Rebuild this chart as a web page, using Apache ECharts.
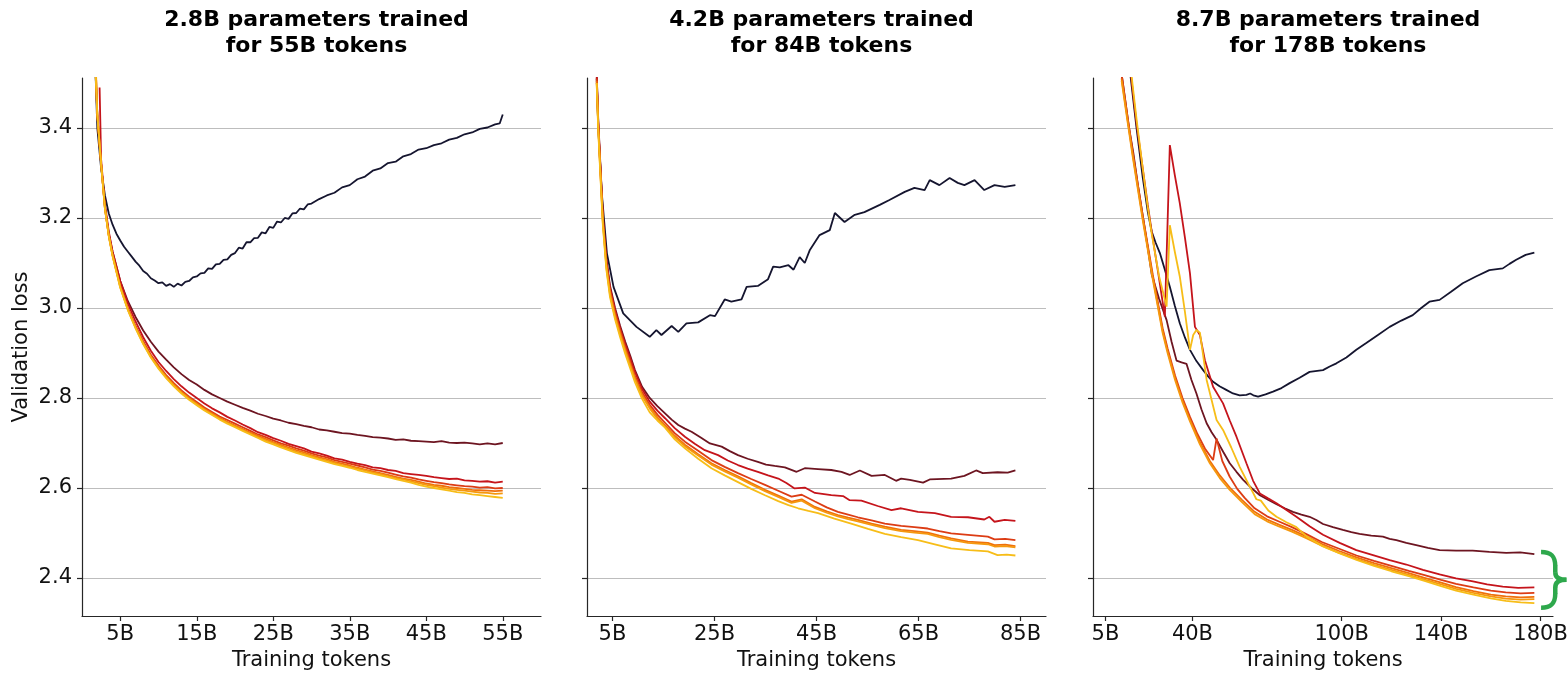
<!DOCTYPE html>
<html>
<head>
<meta charset="utf-8">
<script src="https://cdn.jsdelivr.net/npm/echarts@6/dist/echarts.min.js"></script>
<style>
  html, body { margin: 0; padding: 0; background: #fff; }
  #chart { width: 1568px; height: 674px; }
</style>
</head>
<body>
<div id="chart"></div>
<script>
// ---- panel titles and tick labels ----
const panelTitles = [
  '2.8B parameters trained\nfor 55B tokens',
  '4.2B parameters trained\nfor 84B tokens',
  '8.7B parameters trained\nfor 178B tokens'
];
const yTicks = [2.4, 2.6, 2.8, 3.0, 3.2, 3.4];
const xTicks1 = [5, 15, 25, 35, 45, 55];
const xTicks2 = [5, 25, 45, 65, 85];
const xTicks3 = [5, 40, 100, 140, 180];

// run colours, from the most repeated data (dark) to fresh data (yellow)
const runColors = ['#15152f', '#6d1521', '#c5141b', '#dc3c14', '#ef700c', '#f5980e', '#f7bd18'];

// ---- panel 1: 2.8B / 55B  ([tokens in B, validation loss]) ----
const p1Navy = [[1.7,3.56],[2,3.40],[2.5,3.31],[3,3.25],[3.5,3.21],[4,3.185],[4.5,3.165],[5,3.15],[5.5,3.136],[6,3.125],[6.5,3.114],[7,3.103],[7.5,3.094],[8,3.082],[8.5,3.076],[9,3.066],[9.5,3.061],[10,3.055],[10.5,3.057],[11,3.049],[11.5,3.053],[12,3.047],[12.5,3.054],[13,3.05],[13.5,3.058],[14,3.06],[14.5,3.068],[15,3.07],[15.5,3.077],[16,3.078],[16.5,3.088],[17,3.087],[17.5,3.097],[18,3.098],[18.5,3.107],[19,3.108],[19.5,3.118],[20,3.122],[20.5,3.134],[21,3.132],[21.5,3.146],[22,3.146],[22.5,3.155],[23,3.156],[23.5,3.168],[24,3.166],[24.5,3.18],[25,3.178],[25.5,3.192],[26,3.19],[26.5,3.2],[27,3.198],[27.5,3.21],[28,3.211],[28.5,3.221],[29,3.219],[29.5,3.23],[30,3.232],[31,3.242],[32,3.25],[33,3.256],[34,3.268],[35,3.273],[36,3.286],[37,3.292],[38,3.305],[39,3.31],[40,3.322],[41,3.325],[42,3.337],[43,3.342],[44,3.352],[45,3.355],[46,3.362],[47,3.366],[48,3.374],[49,3.378],[50,3.386],[51,3.39],[52,3.398],[53,3.401],[54,3.408],[54.6,3.41],[55,3.43]];
const p1Maroon = [[1.7,3.55],[2,3.43],[2.5,3.32],[3,3.225],[3.5,3.165],[4,3.125],[5,3.06],[6,3.015],[7,2.98],[8,2.95],[9,2.925],[10,2.903],[11,2.885],[12,2.868],[13,2.853],[14,2.84],[15,2.83],[16,2.818],[17,2.808],[18,2.8],[19,2.792],[20,2.785],[21,2.778],[22,2.772],[23,2.765],[24,2.76],[25,2.754],[26,2.75],[27,2.745],[28,2.742],[29,2.738],[30,2.735],[31,2.73],[32,2.728],[33,2.725],[34,2.722],[35,2.721],[36,2.718],[37,2.716],[38,2.713],[39,2.712],[40,2.71],[41,2.707],[42,2.708],[43,2.705],[44,2.704],[45,2.703],[46,2.702],[47,2.704],[48,2.701],[49,2.7],[50,2.701],[51,2.699],[52,2.697],[53,2.699],[54,2.697],[55,2.7]];
const p1Red = [[2.3,3.49],[2.5,3.33],[3,3.23],[3.5,3.17],[4,3.125],[5,3.06],[6,3.01],[7,2.97],[8,2.935],[9,2.905],[10,2.88],[11,2.86],[12,2.842],[13,2.826],[14,2.812],[15,2.8],[16,2.788],[17,2.777],[18,2.768],[19,2.758],[20,2.75],[21,2.741],[22,2.733],[23,2.724],[24,2.718],[25,2.711],[26,2.705],[27,2.698],[28,2.693],[29,2.688],[30,2.681],[31,2.677],[32,2.672],[33,2.666],[34,2.663],[35,2.658],[36,2.654],[37,2.651],[38,2.646],[39,2.644],[40,2.64],[41,2.638],[42,2.633],[43,2.631],[44,2.629],[45,2.627],[46,2.624],[47,2.622],[48,2.62],[49,2.621],[50,2.617],[51,2.616],[52,2.614],[53,2.615],[54,2.612],[55,2.614]];
const p1RedOrange = [[1.8,3.53],[2,3.43],[2.5,3.32],[3,3.222],[3.5,3.162],[4,3.118],[5,3.05],[6,3.0],[7,2.96],[8,2.926],[9,2.896],[10,2.872],[11,2.851],[12,2.833],[13,2.817],[14,2.803],[15,2.791],[16,2.779],[17,2.769],[18,2.759],[19,2.751],[20,2.743],[21,2.735],[22,2.727],[23,2.719],[24,2.713],[25,2.706],[26,2.699],[27,2.694],[28,2.688],[29,2.683],[30,2.677],[31,2.672],[32,2.668],[33,2.662],[34,2.658],[35,2.654],[36,2.65],[37,2.646],[38,2.641],[39,2.638],[40,2.634],[41,2.63],[42,2.626],[43,2.623],[44,2.619],[45,2.616],[46,2.613],[47,2.611],[48,2.608],[49,2.606],[50,2.604],[51,2.603],[52,2.601],[53,2.602],[54,2.599],[55,2.6]];
const p1Orange = [[1.8,3.53],[2,3.43],[2.5,3.32],[3,3.221],[3.5,3.161],[4,3.117],[5,3.048],[6,2.998],[7,2.958],[8,2.923],[9,2.893],[10,2.869],[11,2.848],[12,2.83],[13,2.814],[14,2.8],[15,2.788],[16,2.776],[17,2.766],[18,2.756],[19,2.747],[20,2.739],[21,2.731],[22,2.723],[23,2.716],[24,2.709],[25,2.702],[26,2.696],[27,2.69],[28,2.684],[29,2.679],[30,2.673],[31,2.668],[32,2.664],[33,2.658],[34,2.654],[35,2.65],[36,2.645],[37,2.641],[38,2.637],[39,2.633],[40,2.629],[41,2.625],[42,2.621],[43,2.618],[44,2.614],[45,2.61],[46,2.607],[47,2.605],[48,2.602],[49,2.6],[50,2.598],[51,2.596],[52,2.595],[53,2.594],[54,2.593],[55,2.594]];
const p1LightOrange = [[1.8,3.54],[2,3.43],[2.5,3.32],[3,3.22],[3.5,3.16],[4,3.116],[5,3.046],[6,2.996],[7,2.956],[8,2.921],[9,2.891],[10,2.867],[11,2.846],[12,2.828],[13,2.812],[14,2.798],[15,2.786],[16,2.774],[17,2.764],[18,2.754],[19,2.745],[20,2.737],[21,2.729],[22,2.721],[23,2.713],[24,2.706],[25,2.7],[26,2.693],[27,2.687],[28,2.681],[29,2.676],[30,2.671],[31,2.665],[32,2.661],[33,2.656],[34,2.651],[35,2.647],[36,2.643],[37,2.639],[38,2.634],[39,2.631],[40,2.626],[41,2.622],[42,2.619],[43,2.615],[44,2.611],[45,2.607],[46,2.604],[47,2.601],[48,2.598],[49,2.596],[50,2.594],[51,2.592],[52,2.59],[53,2.589],[54,2.587],[55,2.588]];
const p1Yellow = [[1.7,3.55],[2,3.43],[2.5,3.32],[3,3.22],[3.5,3.16],[4,3.115],[5,3.045],[6,2.995],[7,2.955],[8,2.92],[9,2.89],[10,2.865],[11,2.844],[12,2.826],[13,2.81],[14,2.796],[15,2.784],[16,2.772],[17,2.762],[18,2.752],[19,2.743],[20,2.735],[21,2.727],[22,2.719],[23,2.711],[24,2.703],[25,2.697],[26,2.69],[27,2.684],[28,2.678],[29,2.673],[30,2.668],[31,2.663],[32,2.658],[33,2.653],[34,2.649],[35,2.645],[36,2.64],[37,2.636],[38,2.632],[39,2.628],[40,2.624],[41,2.62],[42,2.616],[43,2.612],[44,2.607],[45,2.603],[46,2.6],[47,2.597],[48,2.594],[49,2.591],[50,2.589],[51,2.586],[52,2.584],[53,2.582],[54,2.58],[55,2.578]];

// ---- panel 2: 4.2B / 84B ----
const p2Navy = [[1.9,3.51],[2.2,3.403],[2.9,3.255],[3.9,3.122],[5.2,3.047],[7.1,2.988],[9.7,2.958],[12.3,2.936],[13.6,2.951],[14.6,2.94],[16.6,2.96],[17.9,2.947],[19.5,2.966],[21.8,2.968],[24.1,2.984],[25.1,2.982],[27,3.019],[28.3,3.014],[30.3,3.019],[31.3,3.047],[33.5,3.049],[35.5,3.064],[36.5,3.092],[37.8,3.09],[39.5,3.095],[40.5,3.085],[41.7,3.113],[42.7,3.1],[43.7,3.129],[45.6,3.162],[47.6,3.173],[48.6,3.211],[50.5,3.191],[52.5,3.207],[54.4,3.213],[57.4,3.229],[59.3,3.24],[62.3,3.258],[64.2,3.267],[66.2,3.262],[67.2,3.284],[69.1,3.273],[71.1,3.289],[72.7,3.278],[74,3.273],[76,3.284],[77.9,3.262],[79.9,3.273],[81.9,3.269],[84,3.273]];
const p2Maroon = [[1.9,3.52],[2.2,3.42],[2.6,3.325],[3.1,3.21],[3.8,3.11],[4.5,3.05],[5.5,3.0],[6.5,2.96],[7.5,2.925],[8.5,2.893],[9.4,2.862],[10.8,2.825],[12.3,2.8],[13.8,2.782],[15.3,2.766],[16.6,2.752],[17.9,2.74],[19.2,2.732],[20.5,2.725],[22.3,2.712],[24.1,2.699],[26.4,2.692],[28,2.682],[29.6,2.673],[31.5,2.665],[33.5,2.658],[35.1,2.652],[36.8,2.649],[38.8,2.646],[41.1,2.636],[42.7,2.644],[45.3,2.642],[47.9,2.64],[49.9,2.636],[51.5,2.629],[53.5,2.639],[55.8,2.627],[58.4,2.629],[60.6,2.616],[61.6,2.621],[63.3,2.618],[65.9,2.612],[67.2,2.619],[71.4,2.621],[74,2.627],[76.3,2.639],[77.6,2.633],[80.5,2.635],[82.5,2.634],[84,2.639]];
const p2Red = [[1.9,3.52],[2.2,3.415],[2.6,3.32],[3.1,3.205],[3.8,3.105],[4.5,3.045],[5.5,2.995],[6.5,2.955],[7.5,2.92],[8.5,2.888],[9.4,2.858],[10.8,2.82],[12.3,2.792],[13.8,2.772],[15.3,2.755],[17.2,2.733],[19.2,2.714],[21.2,2.698],[23.1,2.684],[25.7,2.673],[27.6,2.661],[29.6,2.651],[31.5,2.643],[33.5,2.636],[35.5,2.628],[37.5,2.621],[39.1,2.611],[40.7,2.599],[42.7,2.601],[44.7,2.589],[47.9,2.584],[50.2,2.582],[51.5,2.573],[53.8,2.572],[57,2.56],[59.7,2.551],[61.6,2.555],[64.9,2.547],[68.2,2.544],[71.4,2.536],[74.7,2.535],[77.9,2.53],[78.9,2.536],[79.9,2.525],[81.9,2.529],[84,2.527]];
const p2RedOrange = [[1.9,3.51],[2.2,3.41],[2.6,3.315],[3.1,3.2],[3.8,3.1],[4.5,3.04],[5.5,2.99],[6.5,2.95],[7.5,2.913],[8.5,2.88],[9.4,2.85],[10.8,2.813],[12.3,2.785],[13.8,2.763],[15.3,2.745],[17.2,2.722],[19.2,2.703],[21.8,2.683],[24.4,2.662],[27,2.647],[29.6,2.633],[32.2,2.62],[34.9,2.607],[37.5,2.594],[40.1,2.581],[42.1,2.585],[44.7,2.57],[47,2.557],[49.2,2.547],[51.2,2.541],[53.1,2.535],[55.8,2.528],[58.4,2.521],[61.6,2.516],[64.2,2.513],[66.8,2.51],[69.1,2.504],[71.4,2.499],[74.7,2.496],[78.6,2.492],[79.9,2.486],[82,2.487],[84,2.484]];
const p2Orange = [[1.9,3.505],[2.2,3.405],[2.6,3.31],[3.1,3.195],[3.8,3.095],[4.5,3.035],[5.5,2.985],[6.5,2.945],[7.5,2.908],[8.5,2.875],[9.4,2.845],[10.8,2.808],[12.3,2.78],[13.8,2.757],[15.3,2.739],[17.2,2.716],[19.2,2.696],[21.8,2.675],[24.4,2.655],[27,2.64],[29.6,2.626],[32.2,2.611],[34.9,2.596],[37.5,2.583],[40.1,2.57],[42.1,2.575],[44.7,2.558],[47,2.548],[49.2,2.54],[51.2,2.534],[53.1,2.529],[55.8,2.521],[58.4,2.514],[61.6,2.507],[64.2,2.504],[66.8,2.501],[69.1,2.494],[71.4,2.488],[74.7,2.481],[78.6,2.478],[79.9,2.473],[82,2.474],[84,2.471]];
const p2LightOrange = [[1.9,3.5],[2.2,3.4],[2.6,3.305],[3.1,3.19],[3.8,3.09],[4.5,3.03],[5.5,2.98],[6.5,2.94],[7.5,2.904],[8.5,2.871],[9.4,2.842],[10.8,2.805],[12.3,2.777],[13.8,2.754],[15.3,2.736],[17.2,2.713],[19.2,2.693],[21.8,2.672],[24.4,2.652],[27,2.637],[29.6,2.623],[32.2,2.608],[34.9,2.593],[37.5,2.58],[40.1,2.567],[42.1,2.572],[44.7,2.555],[47,2.545],[49.2,2.537],[51.2,2.531],[53.1,2.526],[55.8,2.518],[58.4,2.511],[61.6,2.504],[64.2,2.501],[66.8,2.498],[69.1,2.491],[71.4,2.485],[74.7,2.478],[78.6,2.475],[79.9,2.47],[82,2.471],[84,2.468]];
const p2Yellow = [[1.9,3.5],[2.2,3.395],[2.6,3.3],[3.1,3.185],[3.8,3.085],[4.5,3.025],[5.5,2.975],[6.5,2.935],[7.5,2.898],[8.5,2.865],[9.4,2.835],[10.8,2.798],[12.3,2.768],[13.8,2.75],[15.3,2.734],[17.2,2.708],[19.2,2.688],[21.8,2.665],[24.4,2.644],[27,2.628],[29.6,2.613],[32.2,2.598],[34.9,2.584],[37.5,2.571],[39.5,2.562],[41.4,2.555],[43.4,2.549],[45.3,2.544],[48.5,2.532],[51.8,2.521],[55.1,2.509],[58.4,2.498],[61.6,2.491],[64.9,2.484],[68.2,2.475],[71.4,2.466],[75,2.462],[78.6,2.459],[80.5,2.451],[82.3,2.452],[84,2.45]];

// ---- panel 3: 8.7B / 178B ----
const p3Navy = [[15,3.52],[17.5,3.40],[20,3.29],[22,3.215],[23.6,3.17],[25.2,3.145],[26.9,3.122],[28.9,3.085],[30.9,3.047],[32.9,3.005],[34.9,2.966],[37,2.934],[39,2.907],[41.6,2.882],[44.3,2.862],[46.3,2.848],[48.3,2.836],[50.9,2.826],[53.6,2.818],[56.3,2.81],[59,2.806],[61.7,2.807],[63.2,2.81],[64.5,2.806],[66.4,2.803],[69.4,2.808],[72.4,2.814],[75.8,2.822],[79.1,2.833],[83.1,2.845],[87.1,2.858],[92.5,2.862],[95.2,2.87],[97.9,2.877],[101.9,2.89],[105.9,2.907],[109.9,2.922],[114.6,2.94],[119.3,2.958],[124,2.972],[128.6,2.984],[132,3.0],[135.3,3.014],[139.4,3.018],[144,3.036],[148.7,3.055],[154,3.07],[159.4,3.084],[164.8,3.088],[167.5,3.098],[170.2,3.107],[174,3.118],[177.5,3.123]];
const p3Maroon = [[11.5,3.52],[14.5,3.40],[16.2,3.345],[18,3.275],[20,3.205],[22,3.135],[23.6,3.075],[26.6,3.02],[29.6,2.973],[31.6,2.925],[33.6,2.883],[35.6,2.879],[37.6,2.876],[39.6,2.84],[41.6,2.81],[43.6,2.775],[45.7,2.744],[47.7,2.724],[49.7,2.707],[52.4,2.68],[55,2.655],[57.7,2.636],[60.4,2.618],[63.7,2.6],[67.1,2.584],[70.4,2.574],[73.8,2.564],[77.1,2.555],[80.4,2.547],[83.8,2.541],[87.1,2.536],[89.8,2.529],[92.5,2.52],[96.5,2.513],[100.5,2.507],[103.9,2.502],[107.2,2.498],[111.9,2.494],[116.6,2.492],[119.3,2.487],[122,2.484],[126,2.478],[130,2.473],[134.7,2.467],[139.4,2.462],[146,2.461],[152.7,2.461],[159.4,2.458],[166.2,2.456],[171.8,2.457],[177.5,2.453]];
const p3Red = [[15,3.53],[17.5,3.41],[20,3.31],[22,3.23],[23.6,3.17],[26.3,3.075],[28.9,2.981],[30.9,3.362],[32.9,3.295],[34.9,3.233],[37,3.155],[39,3.077],[41,2.958],[43,2.94],[45,2.884],[48.3,2.825],[52.3,2.788],[55,2.75],[57.7,2.714],[61.7,2.655],[64.4,2.616],[67.1,2.588],[70.4,2.577],[73.8,2.566],[77.8,2.551],[81.8,2.536],[87.1,2.515],[92.5,2.496],[99.2,2.478],[105.9,2.462],[112.6,2.451],[119.3,2.44],[126,2.43],[132.7,2.418],[139.4,2.408],[146,2.399],[152.3,2.393],[158.5,2.386],[164.8,2.381],[171,2.378],[177.5,2.379]];
const p3RedOrange = [[11.5,3.52],[14,3.42],[16,3.345],[18,3.275],[20,3.205],[22,3.14],[24,3.075],[26,3.015],[28,2.955],[30,2.91],[33,2.85],[36,2.8],[39,2.758],[42,2.72],[45,2.688],[48.3,2.662],[49.7,2.71],[52,2.66],[55,2.625],[58,2.598],[61,2.578],[65,2.555],[70,2.537],[75,2.525],[80,2.513],[86,2.497],[92,2.48],[99,2.465],[106,2.45],[113,2.438],[120,2.427],[127,2.416],[133,2.407],[140,2.396],[146,2.387],[153,2.379],[160,2.372],[166,2.368],[172,2.366],[177.5,2.367]];
const p3Orange = [[11.5,3.51],[14,3.415],[16,3.34],[18,3.27],[20,3.2],[22,3.135],[24,3.07],[26,3.01],[28,2.95],[30,2.905],[33,2.845],[36,2.795],[39,2.752],[43,2.702],[47,2.66],[51,2.628],[55,2.601],[60,2.573],[65,2.547],[70,2.53],[75,2.518],[80,2.507],[86,2.492],[92,2.476],[99,2.46],[106,2.446],[113,2.433],[120,2.422],[127,2.411],[133,2.401],[140,2.39],[146,2.38],[153,2.371],[160,2.363],[166,2.359],[172,2.357],[177.5,2.358]];
const p3LightOrange = [[11.5,3.505],[14,3.41],[16,3.335],[18,3.265],[20,3.195],[22,3.13],[24,3.065],[26,3.005],[28,2.945],[30,2.9],[33,2.84],[36,2.79],[39,2.748],[43,2.697],[47,2.655],[51,2.622],[55,2.596],[60,2.568],[65,2.542],[70,2.526],[75,2.514],[80,2.503],[86,2.488],[92,2.472],[99,2.456],[106,2.442],[113,2.429],[120,2.418],[127,2.407],[133,2.397],[140,2.386],[146,2.376],[153,2.367],[160,2.359],[166,2.354],[172,2.352],[177.5,2.353]];
const p3Yellow = [[15,3.54],[17.5,3.42],[20,3.31],[22,3.225],[23.6,3.165],[26.6,3.07],[29.6,3.003],[30.9,3.184],[32.9,3.125],[34.9,3.07],[37,2.99],[39,2.907],[40.3,2.94],[41.6,2.951],[43,2.945],[45.7,2.84],[49.7,2.751],[52.3,2.729],[55.6,2.69],[59,2.647],[62.4,2.61],[64.5,2.588],[65.7,2.575],[67.5,2.572],[70.5,2.55],[73.8,2.536],[77.8,2.524],[81.8,2.513],[86,2.492],[92.5,2.47],[99,2.455],[106,2.44],[113,2.427],[120,2.415],[127,2.404],[133,2.394],[140,2.382],[146,2.372],[153,2.363],[160,2.355],[166,2.349],[172,2.346],[177.5,2.344]];

const panelRuns = [
  [p1Navy, p1Maroon, p1Red, p1RedOrange, p1Orange, p1LightOrange, p1Yellow],
  [p2Navy, p2Maroon, p2Red, p2RedOrange, p2Orange, p2LightOrange, p2Yellow],
  [p3Navy, p3Maroon, p3Red, p3RedOrange, p3Orange, p3LightOrange, p3Yellow]
];
const xMax = [60, 90, 185];
const xTickSets = [xTicks1, xTicks2, xTicks3];
const Y_MIN = 2.3156, Y_MAX = 3.511;

// ---- layout ----
const FONT = 'DejaVu Sans';
const AXIS_COLOR = '#262626';
const TICK_FONT = 21;
const gridBoxes = [
  { left: 82, top: 78, width: 459, height: 538 },
  { left: 587, top: 78, width: 459, height: 538 },
  { left: 1093, top: 78, width: 460, height: 538 }
];

const chart = echarts.init(document.getElementById('chart'), null, { renderer: 'canvas' });

const grids = gridBoxes.map(b => Object.assign({ outerBoundsMode: 'none', containLabel: false }, b));

const xAxes = gridBoxes.map((b, i) => ({
  type: 'value',
  gridIndex: i,
  min: 0,
  max: xMax[i],
  name: 'Training tokens',
  nameLocation: 'middle',
  nameGap: 32,
  nameTextStyle: { fontFamily: FONT, fontSize: TICK_FONT, color: '#111' },
  axisLine: { show: true, onZero: false, lineStyle: { color: AXIS_COLOR, width: 1.2 } },
  axisTick: { show: true, length: 5, inside: false, customValues: xTickSets[i], lineStyle: { color: AXIS_COLOR, width: 1.2 } },
  axisLabel: { show: true, customValues: xTickSets[i], margin: 8, fontFamily: FONT, fontSize: TICK_FONT, color: '#111', formatter: v => v + 'B' },
  splitLine: { show: false }
}));

const yAxes = gridBoxes.map((b, i) => ({
  type: 'value',
  gridIndex: i,
  min: Y_MIN,
  max: Y_MAX,
  name: i === 0 ? 'Validation loss' : '',
  nameLocation: 'middle',
  nameGap: 50,
  nameTextStyle: { fontFamily: FONT, fontSize: TICK_FONT, color: '#111' },
  axisLine: { show: true, lineStyle: { color: AXIS_COLOR, width: 1.2 } },
  axisTick: { show: true, length: 5, inside: false, customValues: yTicks, lineStyle: { color: AXIS_COLOR, width: 1.2 } },
  axisLabel: { show: i === 0, customValues: yTicks, margin: 10, fontFamily: FONT, fontSize: TICK_FONT, color: '#111', formatter: v => v.toFixed(1) },
  splitLine: { show: true, lineStyle: { color: '#bdbdbd', width: 1 } }
}));

const series = [];
panelRuns.forEach((runs, gi) => {
  runs.forEach((data, ri) => {
    series.push({
      type: 'line',
      name: 'run ' + (ri + 1),
      xAxisIndex: gi,
      yAxisIndex: gi,
      data: data,
      showSymbol: false,
      symbol: 'none',
      smooth: false,
      clip: true,
      animation: false,
      lineStyle: { color: runColors[ri], width: 1.8 },
      emphasis: { disabled: true }
    });
  });
});

const titles = panelTitles.map((t, i) => ({
  text: t,
  left: gridBoxes[i].left + gridBoxes[i].width / 2,
  top: 2,
  textAlign: 'center',
  textStyle: { fontFamily: FONT, fontSize: 22, fontWeight: 'bold', color: '#000', lineHeight: 26 }
}));

chart.setOption({
  backgroundColor: '#fff',
  animation: false,
  title: titles,
  grid: grids,
  xAxis: xAxes,
  yAxis: yAxes,
  series: series
});

// curly brace grouping the final losses of the largest model
const braceTop = chart.convertToPixel({ gridIndex: 2 }, [180.2, 2.458]);
const braceBot = chart.convertToPixel({ gridIndex: 2 }, [180.2, 2.334]);
const bx = braceTop[0], by = braceTop[1];
const s = (braceBot[1] - braceTop[1]) / 55;
const X = v => bx + v * s;
const Y = v => by + v * s;
const braceStyle = { stroke: '#2ea84c', lineWidth: 4.5, fill: null, lineCap: 'butt' };
const curve = (a, c1, c2, b) => ({
  type: 'bezierCurve',
  shape: { x1: X(a[0]), y1: Y(a[1]), cpx1: X(c1[0]), cpy1: Y(c1[1]), cpx2: X(c2[0]), cpy2: Y(c2[1]), x2: X(b[0]), y2: Y(b[1]) },
  style: braceStyle,
  z: 100
});
const seg = (a, b) => ({
  type: 'line',
  shape: { x1: X(a[0]), y1: Y(a[1]), x2: X(b[0]), y2: Y(b[1]) },
  style: braceStyle,
  z: 100
});

chart.setOption({
  graphic: [
    curve([0, 0], [10, 0], [14, 4], [14, 14]),
    seg([14, 13.5], [14, 20.5]),
    curve([14, 20], [14, 25], [18, 27.5], [25, 27.5]),
    curve([25, 27.5], [18, 27.5], [14, 30], [14, 35]),
    seg([14, 34.5], [14, 41.5]),
    curve([14, 41], [14, 51], [10, 55], [0, 55])
  ]
});
</script>
</body>
</html>
